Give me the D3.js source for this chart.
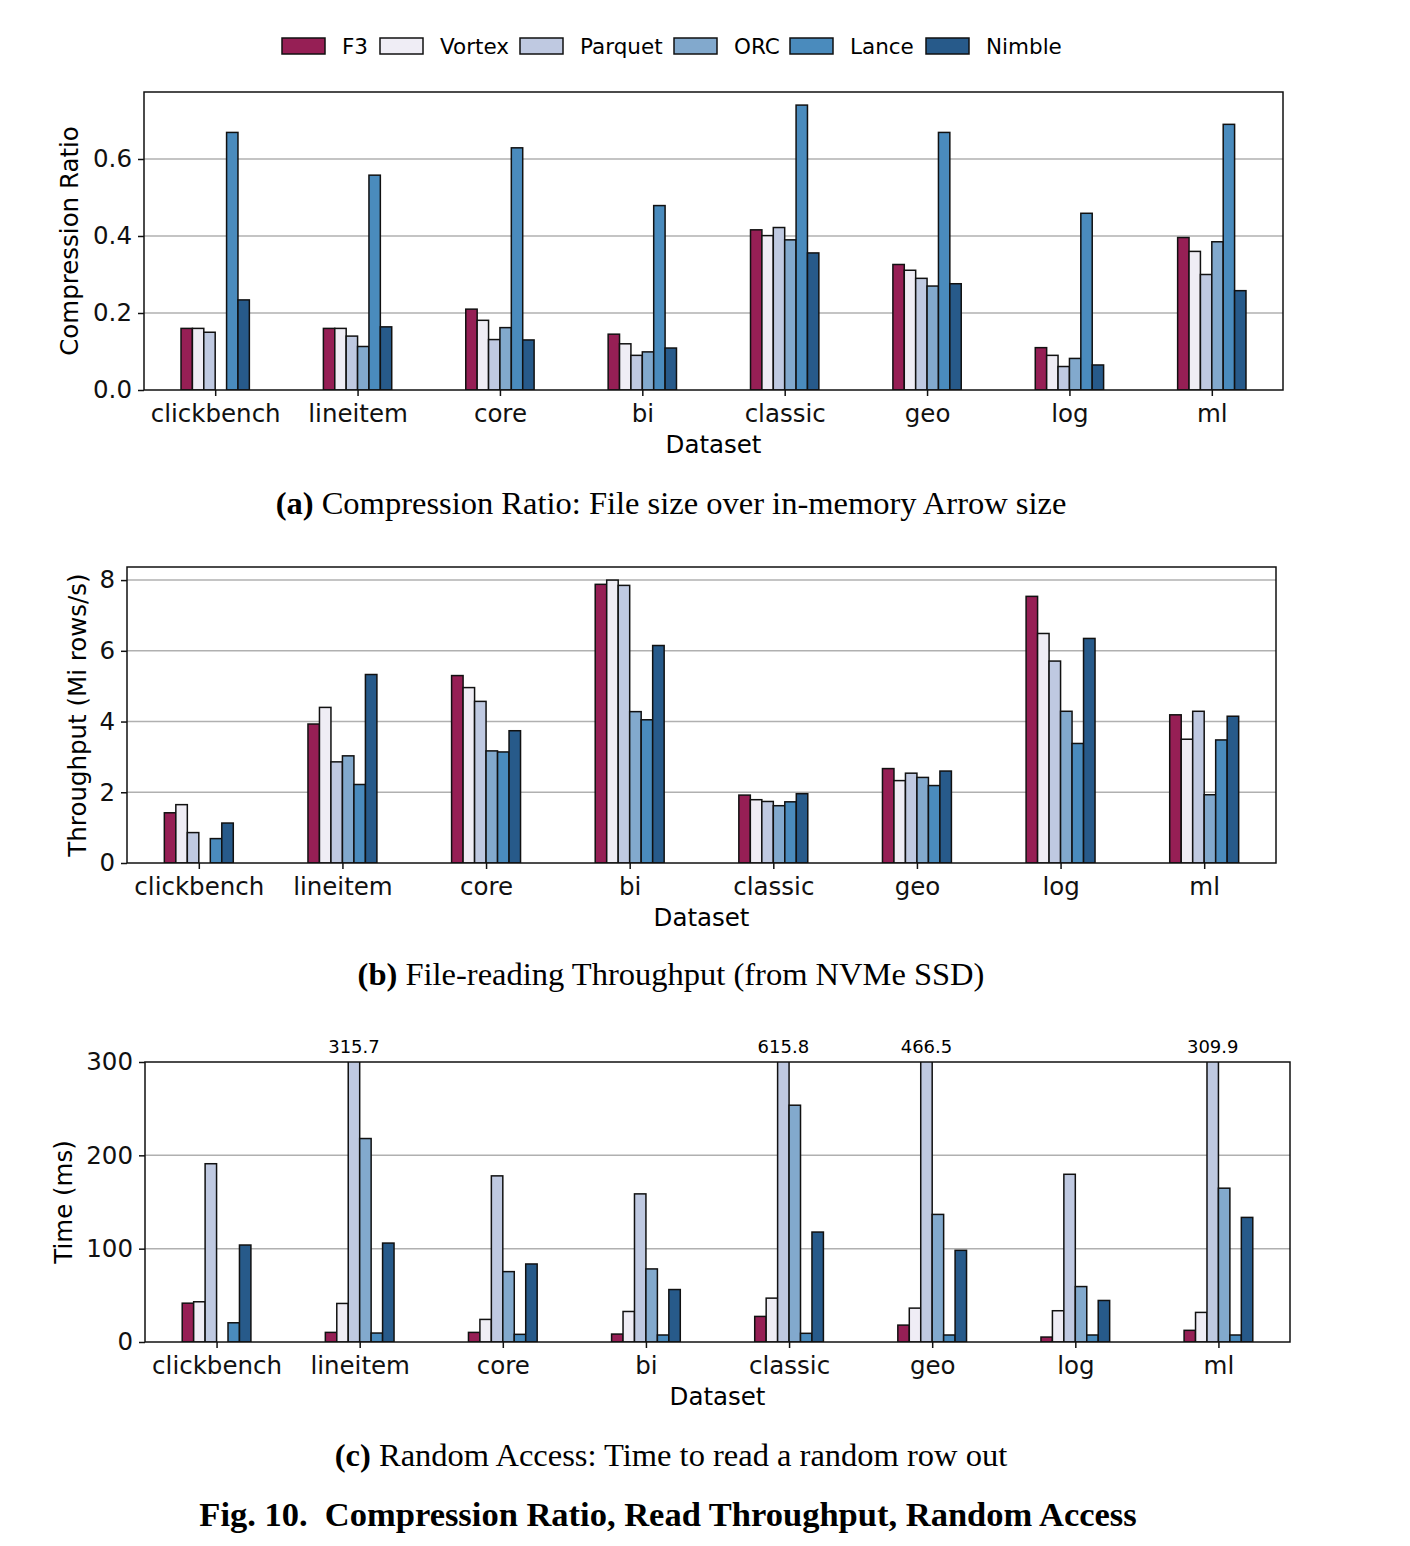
<!DOCTYPE html>
<html>
<head>
<meta charset="utf-8">
<script src="https://cdn.jsdelivr.net/npm/d3@7"></script>
<style>
  body { margin: 0; background: #fff; }
  svg text { font-family: "DejaVu Sans", sans-serif; }
  .cap { font-family: "Liberation Serif", "DejaVu Serif", serif !important; white-space: pre; }
</style>
</head>
<body>
<svg id="chart" width="1410" height="1546"></svg>
<script>
const datasets = ["clickbench", "lineitem", "core", "bi", "classic", "geo", "log", "ml"];
const formats = ["F3", "Vortex", "Parquet", "ORC", "Lance", "Nimble"];
const colors = ["#961f55", "#efedf5", "#bfc9e1", "#82a9cd", "#4a8bbd", "#275a8a"];

// (a) compression ratio, one array per format, in dataset order
const ratio = {
    F3:      [0.160, 0.160, 0.210, 0.145, 0.416, 0.326, 0.110, 0.396],
    Vortex:  [0.160, 0.160, 0.181, 0.120, 0.401, 0.311, 0.090, 0.360],
    Parquet: [0.150, 0.140, 0.131, 0.090, 0.422, 0.290, 0.061, 0.300],
    ORC:     [null,  0.113, 0.162, 0.099, 0.390, 0.270, 0.082, 0.385],
    Lance:   [0.669, 0.558, 0.629, 0.479, 0.740, 0.669, 0.459, 0.690],
    Nimble:  [0.234, 0.164, 0.130, 0.109, 0.356, 0.276, 0.065, 0.258]
};

// (b) read throughput (Mi rows/s)
const throughput = {
    F3:      [1.42, 3.93, 5.30, 7.88, 1.92, 2.67, 7.54, 4.19],
    Vortex:  [1.65, 4.40, 4.96, 8.00, 1.79, 2.33, 6.49, 3.50],
    Parquet: [0.86, 2.86, 4.57, 7.85, 1.74, 2.54, 5.71, 4.29],
    ORC:     [null, 3.03, 3.17, 4.28, 1.62, 2.42, 4.29, 1.93],
    Lance:   [0.69, 2.22, 3.14, 4.05, 1.73, 2.19, 3.38, 3.48],
    Nimble:  [1.13, 5.33, 3.74, 6.15, 1.96, 2.60, 6.35, 4.15]
};

// (c) random access time (ms)
const accessTime = {
    F3:      [41.6, 10.3, 10.3, 8.5, 27.4, 18.1, 5.3, 12.5],
    Vortex:  [43.1, 41.3, 24.2, 32.7, 47.0, 36.3, 33.5, 31.7],
    Parquet: [191.0, 315.7, 178.0, 158.7, 615.8, 466.5, 179.7, 309.9],
    ORC:     [null, 218.0, 75.4, 78.3, 253.7, 136.7, 59.4, 164.8],
    Lance:   [20.6, 9.6, 8.2, 7.5, 9.3, 7.5, 7.5, 7.5],
    Nimble:  [103.9, 106.0, 83.6, 56.2, 117.8, 98.2, 44.5, 133.5]
};

const svg = d3.select("#chart");

// legend
const legendX = [282, 380, 520, 674, 790, 926];
const legend = svg.append("g");
formats.forEach((f, i) => {
    legend.append("rect")
        .attr("x", legendX[i]).attr("y", 38)
        .attr("width", 43).attr("height", 16)
        .attr("fill", colors[i]).attr("stroke", "#111").attr("stroke-width", 1.5);
    legend.append("text")
        .attr("x", legendX[i] + 60).attr("y", 54)
        .attr("font-size", 21.5)
        .text(f);
});

function panel(opt) {
    const {left, right, top, bottom, data, yMax, yTicks, yFmt, yLabel, yLabelX, caption, capY, tag} = opt;
    const g = svg.append("g");

    const x = d3.scaleLinear().domain([-0.5, 7.5]).range([left, right]);
    const y = d3.scaleLinear().domain([0, yMax]).range([bottom, top]);
    const bw = 0.08;

    // grid
    g.append("g").selectAll("line").data(yTicks.filter(t => t > 0 && t < yMax)).join("line")
        .attr("x1", left).attr("x2", right)
        .attr("y1", d => y(d)).attr("y2", d => y(d))
        .attr("stroke", "#b0b0b0").attr("stroke-width", 1.5);

    const clipId = "clip-" + tag;
    g.append("clipPath").attr("id", clipId).append("rect")
        .attr("x", left).attr("y", top).attr("width", right - left).attr("height", bottom - top);

    const bars = g.append("g").attr("clip-path", "url(#" + clipId + ")");
    formats.forEach((f, i) => {
        const vals = data[f].map((v, j) => ({v, j})).filter(d => d.v != null);
        bars.selectAll(null).data(vals).join("rect")
            .attr("x", d => x(d.j + (i - 3) * bw))
            .attr("width", x(bw) - x(0))
            .attr("y", d => y(Math.min(d.v, yMax)) - (d.v > yMax ? 2 : 0))
            .attr("height", d => bottom - y(Math.min(d.v, yMax)) + (d.v > yMax ? 2 : 0))
            .attr("fill", colors[i])
            .attr("stroke", "#111").attr("stroke-width", 1.5);

        // labels for bars running past the top
        g.selectAll(null).data(vals.filter(d => d.v > yMax)).join("text")
            .attr("x", d => x(d.j + (i - 2.5) * bw))
            .attr("y", top - 9)
            .attr("text-anchor", "middle")
            .attr("font-size", 18)
            .text(d => d.v.toFixed(1));
    });

    // frame
    g.append("rect")
        .attr("x", left).attr("y", top).attr("width", right - left).attr("height", bottom - top)
        .attr("fill", "none").attr("stroke", "#111").attr("stroke-width", 1.5);

    const xAxis = g.append("g")
        .attr("transform", "translate(0," + bottom + ")")
        .call(d3.axisBottom(x).tickValues(d3.range(8)).tickFormat(i => datasets[i]).tickSize(6).tickPadding(9));
    xAxis.select(".domain").remove();
    xAxis.selectAll("line").attr("stroke", "#111").attr("stroke-width", 1.5);
    xAxis.selectAll("text").attr("font-size", 24.5).attr("fill", "#111");

    const yAxis = g.append("g")
        .attr("transform", "translate(" + left + ",0)")
        .call(d3.axisLeft(y).tickValues(yTicks).tickFormat(yFmt).tickSize(6).tickPadding(6));
    yAxis.select(".domain").remove();
    yAxis.selectAll("line").attr("stroke", "#111").attr("stroke-width", 1.5);
    yAxis.selectAll("text").attr("font-size", 24.5).attr("fill", "#111");

    g.append("text")
        .attr("x", (left + right) / 2).attr("y", bottom + 63)
        .attr("text-anchor", "middle").attr("font-size", 24.5)
        .text("Dataset");

    g.append("text")
        .attr("transform", "translate(" + yLabelX + "," + (top + bottom) / 2 + ") rotate(-90)")
        .attr("text-anchor", "middle").attr("font-size", 24.5)
        .text(yLabel);

    const c = g.append("text")
        .attr("class", "cap")
        .attr("x", 671).attr("y", capY)
        .attr("text-anchor", "middle").attr("font-size", 32.5);
    c.append("tspan").attr("font-weight", "bold").text("(" + tag + ")");
    c.append("tspan").text(" " + caption);
}

panel({
    tag: "a", left: 144, right: 1283, top: 92, bottom: 390,
    data: ratio, yMax: 0.774, yTicks: [0, 0.2, 0.4, 0.6], yFmt: d3.format(".1f"),
    yLabel: "Compression Ratio", yLabelX: 78,
    caption: "Compression Ratio: File size over in-memory Arrow size", capY: 514
});

panel({
    tag: "b", left: 127, right: 1276, top: 567, bottom: 863,
    data: throughput, yMax: 8.37, yTicks: [0, 2, 4, 6, 8], yFmt: d3.format("d"),
    yLabel: "Throughput (Mi rows/s)", yLabelX: 86,
    caption: "File-reading Throughput (from NVMe SSD)", capY: 985
});

panel({
    tag: "c", left: 145, right: 1290, top: 1062, bottom: 1342,
    data: accessTime, yMax: 300, yTicks: [0, 100, 200, 300], yFmt: d3.format("d"),
    yLabel: "Time (ms)", yLabelX: 72,
    caption: "Random Access: Time to read a random row out", capY: 1466
});

svg.append("text")
    .attr("class", "cap")
    .attr("x", 668).attr("y", 1526)
    .attr("text-anchor", "middle").attr("font-size", 34.5).attr("font-weight", "bold")
    .text("Fig. 10.  Compression Ratio, Read Throughput, Random Access");
</script>
</body>
</html>
